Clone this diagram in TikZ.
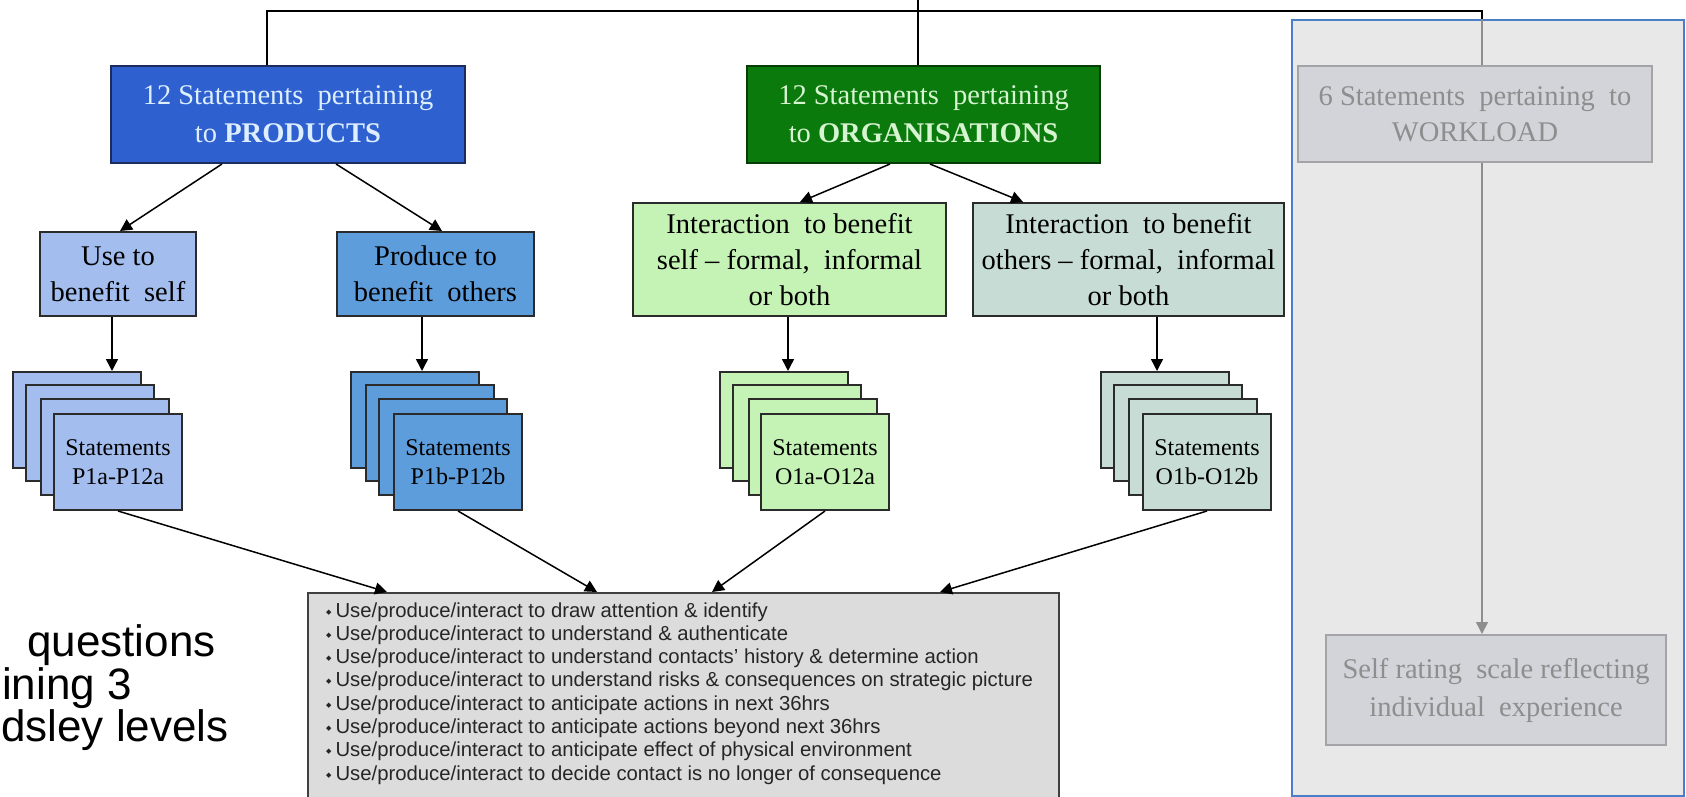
\documentclass[tikz,border=0pt]{standalone}
\usepackage{fontspec}
\setmainfont{Liberation Serif}
\newfontfamily\arial{Liberation Sans}
\newfontfamily\dejavu{DejaVu Sans}
\usetikzlibrary{arrows.meta}

\definecolor{prodblue}{HTML}{2F60D0}
\definecolor{prodline}{HTML}{1C2C5C}
\definecolor{prodtext}{HTML}{DCEEFF}
\definecolor{orggreen}{HTML}{0B7A0D}
\definecolor{orgline}{HTML}{063D07}
\definecolor{orgtext}{HTML}{D6F4D0}
\definecolor{usefill}{HTML}{A3BEEE}
\definecolor{producefill}{HTML}{5E9DDC}
\definecolor{selffill}{HTML}{C5F2B5}
\definecolor{othfill}{HTML}{C6DCD4}
\definecolor{boxline}{HTML}{2B2B2B}
\definecolor{listfill}{HTML}{DCDCDC}
\definecolor{listline}{HTML}{404040}
\definecolor{panelfill}{HTML}{E8E8E8}
\definecolor{panelline}{HTML}{4A7EC8}
\definecolor{fadefill}{HTML}{D3D3DA}
\definecolor{fadeline}{HTML}{A3A3A8}
\definecolor{fadetext}{HTML}{8E8E8E}

\newcommand{\bul}{{\dejavu\fontsize{7}{7}\selectfont\raisebox{3pt}{◆}}}

\begin{document}
\begin{tikzpicture}[x=1pt,y=-1pt,
  conn/.style={line width=1.5pt, draw=black},
  arr/.style={conn, -{Triangle[length=12pt,width=12pt]}},
  greyconn/.style={line width=1.5pt, draw=fadetext},
  greyarr/.style={greyconn, -{Triangle[length=12pt,width=12pt]}},
  box/.style={draw=boxline, line width=2pt, align=center, inner sep=0pt,
    text=black, font=\fontsize{28.5}{36}\selectfont},
  headbox/.style={box, minimum width=354pt, minimum height=97pt,
    font=\fontsize{28.5}{38}\selectfont},
  fadebox/.style={box, draw=fadeline, fill=fadefill, text=fadetext},
  sheet/.style={draw=boxline, line width=2pt, minimum width=128pt,
    minimum height=96pt, inner sep=0pt, anchor=north west, align=center,
    font=\fontsize{24}{29}\selectfont},
  item/.style={anchor=base west, inner sep=0pt,
    font=\arial\fontsize{20.3}{23}\selectfont, text=black!85},
  side/.style={anchor=base west, inner sep=0pt,
    font=\arial\fontsize{44}{42}\selectfont}
]
\useasboundingbox (0,0) rectangle (1686,797);
\fill[white] (0,0) rectangle (1686,797);

% header boxes
\node[headbox, fill=prodblue, draw=prodline, text=prodtext] (prod) at (288,114.5)
  {12 Statements\ \ pertaining\\to \textbf{PRODUCTS}};
\node[headbox, fill=orggreen, draw=orgline, text=orgtext, minimum width=353pt] (org) at (923.5,114.5)
  {12 Statements\ \ pertaining\\to \textbf{ORGANISATIONS}};

% top distribution line
\coordinate (tl) at (267,11);
\coordinate (tr) at (1482,11);
\coordinate (tc) at (918,0);
\draw[conn] (tc) -- (org.north -| tc);

% workload panel
\node[draw=panelline, fill=panelfill, line width=2pt, minimum width=392pt,
  minimum height=776pt, anchor=north west, inner sep=0pt] (panel) at (1291,19) {};
\draw[conn] (prod.north -| tl) |- (tr) -- (tr |- panel.north);
\node[fadebox, minimum width=354pt, minimum height=96pt] (work) at (1475,114)
  {6 Statements\ \ pertaining\ \ to\\WORKLOAD};
\node[fadebox, minimum width=340pt, minimum height=110pt,
  font=\fontsize{28.5}{38}\selectfont] (rate) at (1496,690)
  {Self rating\ \ scale reflecting\\individual\ \ experience};
\draw[greyconn] (tr |- panel.north) -- (work.north -| tr);
\draw[greyarr] (work.south -| tr) -- (rate.north -| tr);

% second level boxes
\node[box, fill=usefill, minimum width=156pt, minimum height=84pt] (use) at (118,274)
  {Use to\\benefit\ \ self};
\node[box, fill=producefill, minimum width=197pt, minimum height=84pt] (produce) at (435.5,274)
  {Produce to\\benefit\ \ others};
\node[box, fill=selffill, minimum width=313pt, minimum height=113pt] (intself) at (789.5,259.5)
  {Interaction\ \ to benefit\\self -- formal,\ \ informal\\or both};
\node[box, fill=othfill, minimum width=311pt, minimum height=113pt] (intoth) at (1128.5,259.5)
  {Interaction\ \ to benefit\\others -- formal,\ \ informal\\or both};

\draw[arr] ([xshift=-66pt]prod.south) -- ([xshift=2pt]use.north);
\draw[arr] ([xshift=48pt]prod.south) -- ([xshift=6.5pt]produce.north);
\draw[arr] ([xshift=-33.5pt]org.south) -- ([xshift=10.5pt]intself.north);
\draw[arr] ([xshift=6.5pt]org.south) -- ([xshift=-105.5pt]intoth.north);

% statement stacks
\node[sheet, fill=usefill] (us1) at (12,371) {};
\node[sheet, fill=usefill] (us2) at (25,384) {};
\node[sheet, fill=usefill] (us3) at (40,398) {};
\node[sheet, fill=usefill] (us4) at (53,413) {Statements\\P1a-P12a};

\node[sheet, fill=producefill] (ps1) at (350,371) {};
\node[sheet, fill=producefill] (ps2) at (365,384) {};
\node[sheet, fill=producefill] (ps3) at (378,398) {};
\node[sheet, fill=producefill] (ps4) at (393,413) {Statements\\P1b-P12b};

\node[sheet, fill=selffill] (ss1) at (719,371) {};
\node[sheet, fill=selffill] (ss2) at (732,384) {};
\node[sheet, fill=selffill] (ss3) at (748,398) {};
\node[sheet, fill=selffill] (ss4) at (760,413) {Statements\\O1a-O12a};

\node[sheet, fill=othfill] (os1) at (1100,371) {};
\node[sheet, fill=othfill] (os2) at (1113,384) {};
\node[sheet, fill=othfill] (os3) at (1128,398) {};
\node[sheet, fill=othfill] (os4) at (1142,413) {Statements\\O1b-O12b};

\coordinate (ud) at ([xshift=-6pt]use.south);
\coordinate (pd) at ([xshift=-13.5pt]produce.south);
\coordinate (sd) at ([xshift=-1.5pt]intself.south);
\coordinate (od) at ([xshift=28.5pt]intoth.south);
\draw[arr] (ud) -- (ud |- us1.north);
\draw[arr] (pd) -- (pd |- ps1.north);
\draw[arr] (sd) -- (sd |- ss1.north);
\draw[arr] (od) -- (od |- os1.north);

% level list
\node[draw=listline, fill=listfill, line width=2pt, minimum width=751pt,
  minimum height=220pt, anchor=north west, inner sep=0pt] (list) at (307,592) {};
\coordinate (li1) at (387,592);
\coordinate (li2) at (597,592);
\coordinate (li3) at (712,592);
\coordinate (li4) at (940,592);
\draw[arr] (us4.south) -- (li1);
\draw[arr] (ps4.south) -- (li2);
\draw[arr] (ss4.south) -- (li3);
\draw[arr] (os4.south) -- (li4);

\foreach \t [count=\i] in {
  to draw attention \& identify,
  to understand \& authenticate,
  to understand contacts’ history \& determine action,
  to understand risks \& consequences on strategic picture,
  to anticipate actions in next 36hrs,
  to anticipate actions beyond next 36hrs,
  to anticipate effect of physical environment,
  to decide contact is no longer of consequence}
  \node[item] (item\i) at (326,{593.7+23.3*\i}) {\bul\hspace{4pt}Use/produce/interact \t};

% cropped side caption
\node[side] (q1) at (27,656) {questions};
\node[side] (q2) at (2,699) {ining 3};
\node[side] (q3) at (1,741) {dsley levels};
\end{tikzpicture}
\end{document}
